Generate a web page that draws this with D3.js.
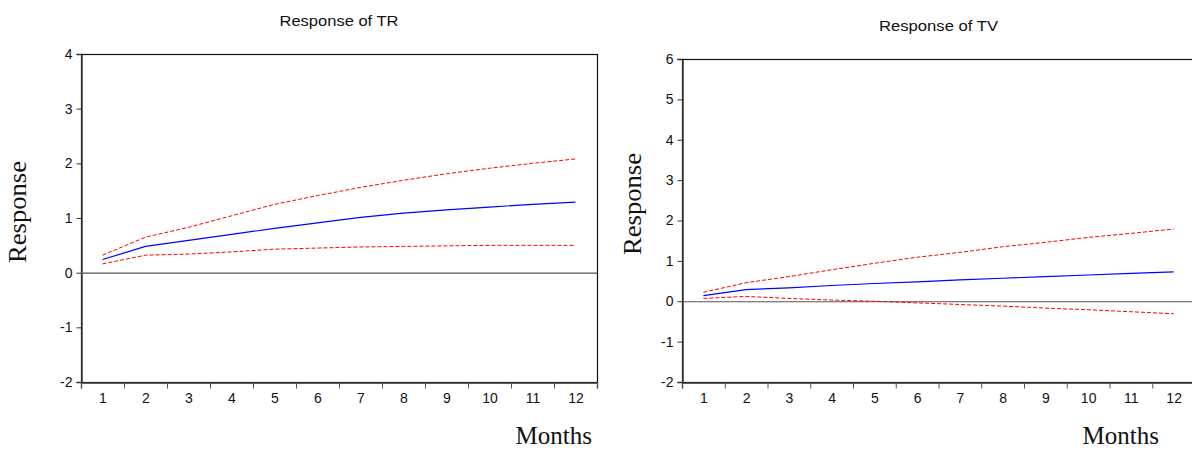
<!DOCTYPE html>
<html>
<head>
<meta charset="utf-8">
<script src="https://cdn.jsdelivr.net/npm/d3@7"></script>
<style>
  html, body { margin: 0; padding: 0; background: #fff; }
  svg { display: block; }
</style>
</head>
<body>
<svg id="chart" width="1192" height="451"></svg>
<script>
// Horizon in months
const months = [1, 2, 3, 4, 5, 6, 7, 8, 9, 10, 11, 12];

// Response of TR: point estimate with upper / lower confidence bands
const trResponse = [0.24, 0.48, 0.59, 0.70, 0.81, 0.91, 1.01, 1.09, 1.15, 1.20, 1.25, 1.29];
const trUpper    = [0.32, 0.65, 0.83, 1.04, 1.25, 1.41, 1.56, 1.69, 1.81, 1.91, 2.00, 2.08];
const trLower    = [0.16, 0.32, 0.34, 0.38, 0.43, 0.45, 0.47, 0.48, 0.49, 0.50, 0.50, 0.50];
const trTicks    = [-2, -1, 0, 1, 2, 3, 4];

// Response of TV: point estimate with upper / lower confidence bands
const tvResponse = [0.14, 0.29, 0.33, 0.39, 0.44, 0.48, 0.53, 0.57, 0.61, 0.65, 0.69, 0.73];
const tvUpper    = [0.22, 0.46, 0.61, 0.78, 0.94, 1.09, 1.21, 1.35, 1.46, 1.58, 1.68, 1.79];
const tvLower    = [0.07, 0.12, 0.07, 0.03, 0.00, -0.04, -0.08, -0.12, -0.17, -0.21, -0.26, -0.31];
const tvTicks    = [-2, -1, 0, 1, 2, 3, 4, 5, 6];

const svg = d3.select("#chart");
const sans = "Liberation Sans, Arial, sans-serif";
const serif = "Liberation Serif, Times New Roman, serif";
const plain = d => String(d);

function styleTickText(sel) {
  sel.selectAll(".tick text")
    .attr("font-family", sans)
    .attr("font-size", 14)
    .attr("fill", "#111");
}

function drawPanel(cfg) {
  const g = svg.append("g");
  const { left, right, top, bottom } = cfg.box;

  // months sit in the middle of equal-width slots; ticks mark slot edges
  const x = d3.scaleLinear().domain([0.5, 12.5]).range([left, right]);
  const y = d3.scaleLinear().domain(d3.extent(cfg.ticks)).range([bottom, top]);

  // frame
  g.append("rect")
    .attr("x", left + 0.5).attr("y", top + 0.5)
    .attr("width", right - left).attr("height", bottom - top)
    .attr("fill", "none").attr("stroke", "#111").attr("stroke-width", 1.2);

  // left axis
  const yAxis = g.append("g")
    .attr("transform", `translate(${left + 0.5},0)`)
    .call(d3.axisLeft(y).tickValues(cfg.ticks).tickSize(5).tickPadding(4).tickFormat(plain));
  yAxis.select(".domain").attr("stroke", "#333").attr("stroke-width", 1.4);
  yAxis.selectAll(".tick line").attr("stroke", "#333");
  styleTickText(yAxis);

  // bottom axis: slot-edge tick marks
  const edges = d3.range(0.5, 13, 1);
  const xEdges = g.append("g")
    .attr("transform", `translate(0,${bottom + 0.5})`)
    .call(d3.axisBottom(x).tickValues(edges).tickSize(6).tickFormat(""));
  xEdges.select(".domain").attr("stroke", "#333").attr("stroke-width", 1.4);
  xEdges.selectAll(".tick line").attr("stroke", "#555");

  // bottom axis: month labels
  const xLabels = g.append("g")
    .attr("transform", `translate(0,${bottom + 0.5})`)
    .call(d3.axisBottom(x).tickValues(months).tickSize(0).tickPadding(11).tickFormat(plain));
  xLabels.select(".domain").remove();
  styleTickText(xLabels);

  // zero line
  g.append("line")
    .attr("x1", left).attr("x2", right)
    .attr("y1", y(0) + 0.5).attr("y2", y(0) + 0.5)
    .attr("stroke", "#555").attr("stroke-width", 1.2);

  const line = d3.line()
    .x((d, i) => x(months[i]))
    .y(d => y(d));

  // confidence bands
  [cfg.upper, cfg.lower].forEach(band => {
    g.append("path")
      .datum(band)
      .attr("d", line)
      .attr("fill", "none")
      .attr("stroke", "#ff0000")
      .attr("stroke-width", 1)
      .attr("stroke-dasharray", "4,2");
  });

  // point estimate
  g.append("path")
    .datum(cfg.response)
    .attr("d", line)
    .attr("fill", "none")
    .attr("stroke", "#0000ff")
    .attr("stroke-width", 1.2);

  // title
  g.append("text")
    .attr("x", (left + right) / 2)
    .attr("y", cfg.titleY)
    .attr("text-anchor", "middle")
    .attr("font-family", sans)
    .attr("font-size", 15)
    .attr("textLength", 119)
    .attr("lengthAdjust", "spacingAndGlyphs")
    .attr("fill", "#111")
    .text(cfg.title);

  // axis titles
  g.append("text")
    .attr("transform", `translate(${cfg.yLabelX},${cfg.yLabelY}) rotate(-90)`)
    .attr("text-anchor", "middle")
    .attr("font-family", serif)
    .attr("font-size", 25)
    .attr("textLength", 102)
    .attr("lengthAdjust", "spacingAndGlyphs")
    .attr("fill", "#111")
    .text("Response");

  g.append("text")
    .attr("x", cfg.xLabelX)
    .attr("y", 444)
    .attr("text-anchor", "end")
    .attr("font-family", serif)
    .attr("font-size", 25)
    .attr("fill", "#111")
    .text("Months");
}

drawPanel({
  title: "Response of TR",
  titleY: 26,
  box: { left: 81, right: 597, top: 54, bottom: 382 },
  ticks: trTicks,
  response: trResponse, upper: trUpper, lower: trLower,
  yLabelX: 26, yLabelY: 212,
  xLabelX: 592
});

drawPanel({
  title: "Response of TV",
  titleY: 31,
  box: { left: 682, right: 1195, top: 59, bottom: 382 },
  ticks: tvTicks,
  response: tvResponse, upper: tvUpper, lower: tvLower,
  yLabelX: 641, yLabelY: 204,
  xLabelX: 1159
});
</script>
</body>
</html>
